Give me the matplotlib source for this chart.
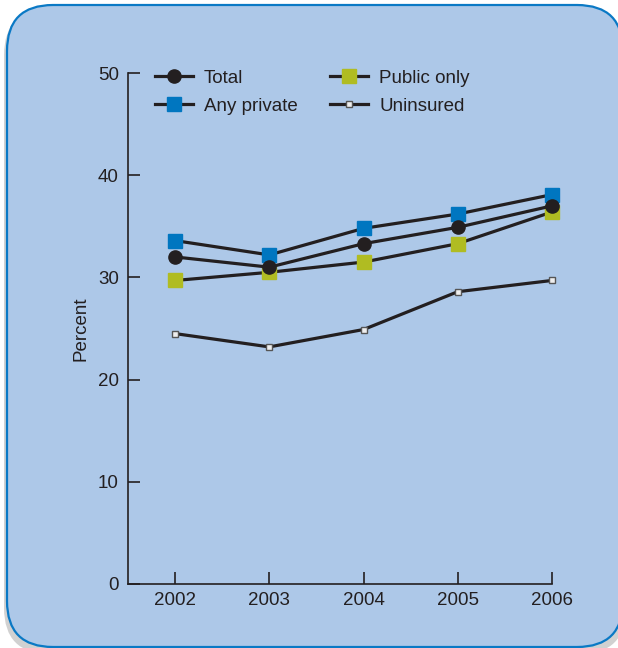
import numpy as np
import matplotlib
matplotlib.use("Agg")
import matplotlib.pyplot as plt
from matplotlib.patches import FancyBboxPatch

plt.rcParams['font.family'] = ['Liberation Sans', 'DejaVu Sans']

# datos por año (porcentaje)
years = [2002, 2003, 2004, 2005, 2006]
total = [32.0, 31.0, 33.3, 34.9, 37.0]
any_private = [33.6, 32.2, 34.8, 36.2, 38.1]
public_only = [29.7, 30.5, 31.5, 33.3, 36.4]
uninsured = [24.5, 23.2, 24.9, 28.6, 29.7]
yticks = [0, 10, 20, 30, 40, 50]

txt = '#231f20'
bg = '#adc8e8'
fs = 13.5

fig = plt.figure(figsize=(6.18, 6.48), dpi=100)
fig.patch.set_facecolor('white')

# fondo redondeado con sombra
back = fig.add_axes([0, 0, 1, 1])
back.set_xlim(0, 618)
back.set_ylim(648, 0)
back.axis('off')
shadow = FancyBboxPatch((4, 9), 622, 645, boxstyle="round,pad=0,rounding_size=46",
                        fc='#9a9a9a', ec='none', alpha=0.45)
back.add_patch(shadow)
box = FancyBboxPatch((7, 5), 616, 642, boxstyle="round,pad=0,rounding_size=46",
                     fc=bg, ec='#0a79c5', lw=1.6)
back.add_patch(box)

ax = fig.add_axes([128 / 618, 64 / 648, 424 / 618, 511 / 648])
ax.set_facecolor('none')

ax.plot(years, total, color=txt, lw=2.3, marker='o', ms=9.5, mfc=txt, mec=txt,
        label='Total', clip_on=False, zorder=4)
ax.plot(years, any_private, color=txt, lw=2.3, marker='s', ms=9.5, mfc='#0076c0', mec='#0076c0',
        label='Any private', clip_on=False, zorder=3)
ax.plot(years, public_only, color=txt, lw=2.3, marker='s', ms=9.5, mfc='#b0bc22', mec='#b0bc22',
        label='Public only', clip_on=False, zorder=2)
ax.plot(years, uninsured, color=txt, lw=2.3, marker='s', ms=5, mfc='#eeeeee', mec='#555555', mew=1,
        label='Uninsured', clip_on=False, zorder=3)

ax.set_xlim(2001.5, 2006)
ax.set_ylim(0, 50)
ax.set_xticks(years)
ax.set_yticks(yticks)
ax.spines['top'].set_visible(False)
ax.spines['right'].set_visible(False)
for s in ['left', 'bottom']:
    ax.spines[s].set_color(txt)
    ax.spines[s].set_linewidth(1.2)
ax.tick_params(direction='in', length=8.5, width=1.2, color=txt, labelcolor=txt, labelsize=fs)
ax.tick_params(axis='y', pad=6.5)
ax.tick_params(axis='x', pad=6)
ax.set_ylabel('Percent', fontsize=fs, color=txt, labelpad=6)

leg = ax.legend(loc='upper left', bbox_to_anchor=(0.064, 1.006), ncol=2, frameon=False,
                fontsize=fs, handlelength=2.0, columnspacing=1.75, handletextpad=0.6,
                labelspacing=0.56, borderpad=0, borderaxespad=0)
for t in leg.get_texts():
    t.set_color(txt)

fig.savefig('out.png', dpi=100)
